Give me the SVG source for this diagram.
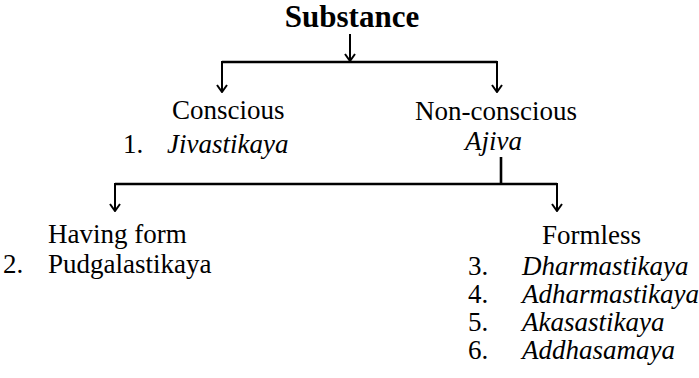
<svg xmlns="http://www.w3.org/2000/svg" width="699" height="378" viewBox="0 0 699 378">
<defs>
<marker id="arr" viewBox="0 0 12 10" refX="6" refY="9" markerWidth="12" markerHeight="10" markerUnits="userSpaceOnUse" orient="0">
<path d="M1,2 L6,9 L11,2" fill="none" stroke="#000" stroke-width="2"/>
</marker>
<style>
text{font-family:"Liberation Serif","DejaVu Serif","Times New Roman",Times,serif;font-size:27px;fill:#000}
.title{font-size:31px;font-weight:bold}
.it{font-style:italic}
.ln{fill:none;stroke:#000;stroke-width:2.6}
.ar{fill:none;stroke:#000;stroke-width:2;marker-end:url(#arr)}
</style>
</defs>
<rect width="699" height="378" fill="#fff"/>
<g id="connectors">
<line class="ar" x1="350" y1="34" x2="350" y2="61"/>
<path class="ln" d="M222,62 H497"/>
<line class="ar" x1="222" y1="61" x2="222" y2="92"/>
<line class="ar" x1="497" y1="61" x2="497" y2="92"/>
<line class="ln" x1="501" y1="157" x2="501" y2="184"/>
<path class="ln" d="M115,184 H557"/>
<line class="ar" x1="115" y1="183" x2="115" y2="211"/>
<line class="ar" x1="557" y1="183" x2="557" y2="211"/>
</g>
<g id="substance"><text class="title" x="352" y="27" text-anchor="middle">Substance</text></g>
<g id="conscious">
<text x="172" y="119">Conscious</text>
<text x="123" y="153">1.</text>
<text class="it" x="167" y="153">Jivastikaya</text>
</g>
<g id="nonconscious">
<text x="415" y="120">Non-conscious</text>
<text class="it" x="465" y="150">Ajiva</text>
</g>
<g id="havingform">
<text x="48" y="243">Having form</text>
<text x="3" y="273">2.</text>
<text x="48" y="273">Pudgalastikaya</text>
</g>
<g id="formless">
<text x="542" y="244">Formless</text>
<text x="468" y="275">3.</text>
<text class="it" x="522" y="275">Dharmastikaya</text>
<text x="468" y="303">4.</text>
<text class="it" x="522" y="303">Adharmastikaya</text>
<text x="468" y="331">5.</text>
<text class="it" x="522" y="331">Akasastikaya</text>
<text x="468" y="359">6.</text>
<text class="it" x="522" y="359">Addhasamaya</text>
</g>
</svg>
